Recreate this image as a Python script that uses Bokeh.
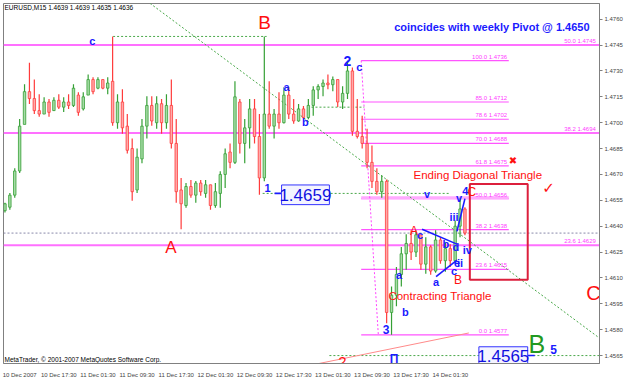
from bokeh.plotting import figure
from bokeh.models import ColumnDataSource, Range1d, FixedTicker, NumeralTickFormatter, Label
from bokeh.embed import file_html
from bokeh.resources import INLINE
from bokeh.core.properties import value

# ---------------- data (hourly bars, x = hours since 10 Dec 2007 first label) -------------
opens = [1.4649, 1.4651, 1.4658, 1.4672, 1.4699, 1.4718, 1.4714, 1.4707, 1.4705, 1.4712,
         1.4707, 1.4713, 1.4709, 1.4712, 1.4710, 1.4716, 1.4708, 1.4716, 1.4725, 1.4720,
         1.4725, 1.4720, 1.4724, 1.4700, 1.4712, 1.4698, 1.4685, 1.4661, 1.4679, 1.4698,
         1.4710, 1.4700, 1.4711, 1.4700, 1.4710, 1.4688, 1.4661, 1.4652, 1.4663, 1.4658,
         1.4665, 1.4659, 1.4664, 1.4652, 1.4659, 1.4670, 1.4683, 1.4677, 1.4712, 1.4688,
         1.4697, 1.4708, 1.4692, 1.4668, 1.4705, 1.4698, 1.4705, 1.4700, 1.4716, 1.4705,
         1.4701, 1.4708, 1.4703, 1.4710, 1.4719, 1.4721, 1.4723, 1.4722, 1.4725, 1.4712,
         1.4717, 1.4730, 1.4695, 1.4692, 1.4688, 1.4677, 1.4666, 1.4660, 1.4666, 1.4590,
         1.4600, 1.4612, 1.4624, 1.4630, 1.4625, 1.4635, 1.4618, 1.4628, 1.4614, 1.4632,
         1.4620, 1.4627, 1.4620, 1.4640, 1.4650]
highs = [1.46536, 1.46593, 1.46736, 1.47022, 1.47223, 1.47348, 1.47251, 1.47165, 1.47148, 1.47137,
         1.47148, 1.47165, 1.47148, 1.47165, 1.47223, 1.47177, 1.47177, 1.47280, 1.47263, 1.47263,
         1.47251, 1.47263, 1.47500, 1.47165, 1.47194, 1.47051, 1.46908, 1.46851, 1.47022, 1.47154,
         1.47154, 1.47154, 1.47137, 1.47165, 1.47251, 1.47022, 1.46679, 1.46650, 1.46668, 1.46662,
         1.46668, 1.46668, 1.46640, 1.46650, 1.46719, 1.46851, 1.46879, 1.47240, 1.47137, 1.47022,
         1.47137, 1.47137, 1.47051, 1.47500, 1.47240, 1.47080, 1.47177, 1.47205, 1.47205, 1.47137,
         1.47108, 1.47097, 1.47137, 1.47211, 1.47223, 1.47251, 1.47280, 1.47268, 1.47251, 1.47211,
         1.47360, 1.47320, 1.47137, 1.47040, 1.46965, 1.46868, 1.46736, 1.46696, 1.46670, 1.46050,
         1.46164, 1.46279, 1.46353, 1.46376, 1.46376, 1.46353, 1.46336, 1.46290, 1.46376, 1.46336,
         1.46307, 1.46296, 1.46433, 1.46565, 1.46510]
lows = [1.46479, 1.46496, 1.46565, 1.46708, 1.46994, 1.47108, 1.47051, 1.47034, 1.47051, 1.47034,
        1.47068, 1.47080, 1.47062, 1.47080, 1.47091, 1.47040, 1.47070, 1.47165, 1.47165, 1.47194,
        1.47194, 1.47165, 1.46982, 1.46965, 1.46936, 1.46822, 1.46548, 1.46593, 1.46765, 1.46908,
        1.46982, 1.46965, 1.46936, 1.46965, 1.46851, 1.46536, 1.46382, 1.46507, 1.46565, 1.46536,
        1.46576, 1.46565, 1.46496, 1.46507, 1.46507, 1.46622, 1.46736, 1.46760, 1.46822, 1.46765,
        1.46851, 1.46879, 1.46582, 1.46660, 1.46965, 1.46908, 1.46965, 1.46995, 1.47022, 1.46994,
        1.47005, 1.47022, 1.47020, 1.47040, 1.47137, 1.47154, 1.47194, 1.47182, 1.47091, 1.47080,
        1.47137, 1.46925, 1.46908, 1.46851, 1.46736, 1.46622, 1.46582, 1.46565, 1.45838, 1.45770,
        1.45936, 1.46050, 1.46147, 1.46204, 1.46221, 1.46147, 1.46124, 1.46119, 1.46130, 1.46182,
        1.46136, 1.46164, 1.46180, 1.46336, 1.46347]
closes = [1.4653, 1.4658, 1.4672, 1.4698, 1.4718, 1.4714, 1.4707, 1.4705, 1.4712, 1.4706,
          1.4713, 1.4709, 1.4712, 1.4710, 1.4720, 1.4706, 1.4715, 1.4725, 1.4718, 1.4725,
          1.4720, 1.4723, 1.4700, 1.4712, 1.4697, 1.4684, 1.4660, 1.4680, 1.4698, 1.4710,
          1.4701, 1.4711, 1.4700, 1.4710, 1.4688, 1.4660, 1.4653, 1.4663, 1.4658, 1.4665,
          1.4660, 1.4664, 1.4652, 1.4660, 1.4670, 1.4682, 1.4677, 1.4715, 1.4688, 1.4697,
          1.4708, 1.4692, 1.4668, 1.4705, 1.4698, 1.4705, 1.4700, 1.4716, 1.4705, 1.4701,
          1.4708, 1.4703, 1.4710, 1.4719, 1.4721, 1.4723, 1.4722, 1.4725, 1.4712, 1.4717,
          1.4730, 1.4695, 1.4692, 1.4688, 1.4677, 1.4666, 1.4660, 1.4666, 1.4590, 1.4600,
          1.4612, 1.4624, 1.4630, 1.4625, 1.4635, 1.4618, 1.4628, 1.4614, 1.4632, 1.4620,
          1.4627, 1.4620, 1.4640, 1.4650, 1.4636]

x_tick_hours = [0, 8, 16, 24, 32, 40, 48, 56, 64, 72, 80, 88]
x_tick_labels = ["10 Dec 2007", "10 Dec 17:30", "11 Dec 01:30", "11 Dec 09:30", "11 Dec 17:30",
                 "12 Dec 01:30", "12 Dec 09:30", "12 Dec 17:30", "13 Dec 01:30", "13 Dec 09:30",
                 "13 Dec 17:30", "14 Dec 01:30"]
y_ticks = [1.4565, 1.4580, 1.4595, 1.4610, 1.4625, 1.4640, 1.4655, 1.4670, 1.4685, 1.4700,
           1.4715, 1.4730, 1.4745, 1.4760]

fib_short_levels = ["100.0", "85.0", "78.6", "70.0", "61.8", "50.0", "38.2", "23.6", "0.0"]
fib_short_prices = [1.4736, 1.4712, 1.4702, 1.4688, 1.4675, 1.4656, 1.4638, 1.4615, 1.4577]
fib_long_levels = ["50.0", "38.2", "23.6"]
fib_long_prices = [1.4745, 1.4694, 1.4629]
bid_price = 1.4636
pivot_1 = 1.4659
pivot_2 = 1.4565

# ---------------- figure -------------
X0, X1 = 0.2, 122.0
p = figure(width=625, height=380, x_range=Range1d(X0, X1), y_range=Range1d(1.45604, 1.47691),
           output_backend="svg", toolbar_location=None, y_axis_location="right",
           min_border_left=3, min_border_top=3, min_border_right=24, min_border_bottom=12,
           background_fill_color="white", border_fill_color="white",
           outline_line_color="#808080")
p.grid.visible = False

FONT = "Liberation Sans"

# axes
p.yaxis.ticker = FixedTicker(ticks=y_ticks)
p.yaxis.formatter = NumeralTickFormatter(format="0.0000")
p.yaxis.major_label_text_font_size = "6px"
p.yaxis.major_label_text_font = FONT
p.yaxis.major_tick_out = 3
p.yaxis.major_tick_in = 0
p.yaxis.minor_tick_out = 0
p.yaxis.minor_tick_in = 0
p.yaxis.major_label_standoff = 2
p.yaxis.axis_line_color = "#808080"
p.yaxis.major_tick_line_color = "#808080"

xt = [h + 3.5 for h in x_tick_hours]
p.xaxis.ticker = FixedTicker(ticks=xt)
p.xaxis.major_label_overrides = {t: l for t, l in zip(xt, x_tick_labels)}
p.xaxis.major_label_text_font_size = "6px"
p.xaxis.major_label_text_font = FONT
p.xaxis.major_tick_line_color = None
p.xaxis.minor_tick_line_color = None
p.xaxis.major_label_standoff = 2
p.xaxis.axis_line_color = "#808080"

# ---------------- horizontal reference lines -------------
p.segment(x0=[X0] * 3, x1=[X1] * 3, y0=fib_long_prices, y1=fib_long_prices,
          line_color="#ff70ff", line_width=2)
sx0, sx1 = 73.3, 103.46
p.segment(x0=[sx0] * len(fib_short_prices), x1=[sx1] * len(fib_short_prices),
          y0=fib_short_prices, y1=fib_short_prices, line_color="#ff55ff", line_width=1.2)
p.segment(x0=[sx0], x1=[sx1], y0=[1.46565], y1=[1.46565], line_color="#ffaaff", line_width=3)
p.segment(x0=[X0], x1=[X1], y0=[bid_price], y1=[bid_price], line_color="#8888aa",
          line_dash="2 2", line_width=1)
p.segment(x0=[73.3], x1=[76.8], y0=[1.4736], y1=[1.4577], line_color="#ff44ff",
          line_dash="2 2", line_width=1)

gdx0 = [30.14, 22.6, 63.14, 53.16, 66.8]
gdx1 = [122.2, 53.97, 73.93, 91.24, 122.2]
gdy0 = [1.47692, 1.4750, 1.4709, pivot_1, pivot_2]
gdy1 = [1.45747, 1.4750, 1.4709, pivot_1, pivot_2]
p.segment(x0=gdx0, x1=gdx1, y0=gdy0, y1=gdy1, line_color="#4aa84a", line_dash="2 2",
          line_width=1)

p.segment(x0=[60.7], x1=[95.3], y0=[1.45581], y1=[1.45781], line_color="#ff8a8a", line_width=1)

# ---------------- candles -------------
xs = [i + 0.5 for i in range(len(opens))]
up = [c >= o for o, c in zip(opens, closes)]
src = ColumnDataSource(dict(
    x=xs, o=opens, h=highs, l=lows, c=closes,
    top=[max(o, c) for o, c in zip(opens, closes)],
    bot=[min(o, c) for o, c in zip(opens, closes)],
    wick=["#35a035" if u else "#ff3b3b" for u in up],
    fill=["#a8dca8" if u else "#ffaaaa" for u in up],
))
p.segment(x0="x", x1="x", y0="h", y1="l", line_color="wick", line_width=1.2, source=src)
p.vbar(x="x", width=0.5, top="top", bottom="bot", fill_color="fill", line_color="wick",
       line_width=0.8, source=src)

# ---------------- blue structure lines -------------
p.segment(x0=[85.74, 88.6, 92.87, 55.6, 107.33],
          x1=[92.87, 92.87, 94.5, 57.03, 108.76],
          y0=[1.46382, 1.46108, 1.4637, pivot_1, pivot_2],
          y1=[1.46296, 1.46204, 1.4656, pivot_1, pivot_2],
          line_color="#1a1aff", line_width=1.6)

p.quad(left=[95.5], right=[107.33], top=[1.46645], bottom=[1.4609],
       fill_color=None, line_color="#dc1f3c", line_width=2)

p.quad(left=[57.03, 97.35], right=[66.8, 107.33], top=[1.46639, 1.45701],
       bottom=[1.46525, 1.45598], fill_color="#f4f4ff", line_color="#3333ff", line_width=1)
p.text(x=[61.9, 102.34], y=[1.46582, 1.4565], text=["1.4659", "1.4565"],
       text_align="center", text_baseline="middle", text_color="#1010e0",
       text_font=value(FONT), text_font_size="17px")

# ---------------- fib labels -------------
p.text(x=[sx1] * len(fib_short_prices), y=fib_short_prices,
       text=[f"{lv}  {pr:.4f}" for lv, pr in zip(fib_short_levels, fib_short_prices)],
       text_align="right", text_baseline="bottom", y_offset=-1,
       text_color="#ff40ff", text_font=value(FONT), text_font_size="6px")
p.text(x=[121.6] * 3, y=fib_long_prices,
       text=[f"{lv}  {pr:.4f}" for lv, pr in zip(fib_long_levels, fib_long_prices)],
       text_align="right", text_baseline="bottom", y_offset=-1,
       text_color="#ff40ff", text_font=value(FONT), text_font_size="6px")

# ---------------- wave labels -------------
blue = [("c", 18.33, 1.47474, "11px"), ("a", 58.04, 1.47205, "11px"),
        ("b", 61.9, 1.47005, "11px"), ("2", 70.47, 1.4736, "14px"),
        ("c", 72.9, 1.47325, "11px"), ("1", 54.17, 1.46622, "11px"),
        ("v", 86.76, 1.46588, "11px"), ("v", 93.28, 1.46565, "11px"),
        ("4", 94.6, 1.46605, "11px"), ("iii", 92.26, 1.46456, "11px"),
        ("3", 78.4, 1.45804, "12px"), ("a", 81.06, 1.46119, "11px"),
        ("b", 82.3, 1.45901, "11px"), ("a", 88.6, 1.46079, "11px"),
        ("c", 92.26, 1.46142, "11px"), ("b", 90.6, 1.46296, "11px"),
        ("d", 92.67, 1.46279, "11px"), ("iv", 95.0, 1.46261, "11px"),
        ("e", 92.9, 1.46187, "11px"), ("ii", 93.5, 1.46187, "11px"),
        ("c", 85.34, 1.46347, "11px"), ("5", 112.6, 1.45684, "12px")]
p.text(x=[b[1] for b in blue], y=[b[2] for b in blue], text=[b[0] for b in blue],
       text_font_size=[b[3] for b in blue], text_align="center", text_baseline="middle",
       text_color="#1a1aff", text_font=value(FONT), text_font_style="bold")

red = [("B", 53.56, 1.47583, "19px"), ("A", 34.4, 1.46279, "17px"),
       ("C", 120.77, 1.4601, "20px"), ("A", 84.1, 1.4637, "12px"),
       ("B", 93.08, 1.4609, "12px"), ("C", 95.9, 1.4660, "12px"),
       ("2", 69.45, 1.45615, "15px"),
       ("Ending Diagonal Triangle", 97.15, 1.46696, "11.5px"),
       ("Contracting Triangle", 89.4, 1.45998, "11.5px")]
p.text(x=[r[1] for r in red], y=[r[2] for r in red], text=[r[0] for r in red],
       text_font_size=[r[3] for r in red], text_align="center", text_baseline="middle",
       text_color="#ff1010", text_font=value(FONT))

p.text(x=[104.3, 111.6], y=[1.46782, 1.46622], text=["\u2716", "\u2713"],
       text_font_size=["10px", "15px"], text_align="center", text_baseline="middle",
       text_color="#ff1010", text_font=value("DejaVu Sans"))

p.text(x=[109.2], y=[1.45718], text=["B"], text_font_size="25px", text_align="center",
       text_baseline="middle", text_color="#229922", text_font=value(FONT))
p.text(x=[80.04], y=[1.45632], text=["\u03a0"], text_font_size="12px", text_align="center",
       text_baseline="middle", text_color="#1a1aff", text_font=value(FONT),
       text_font_style="bold")

p.text(x=[100.0], y=[1.47554], text=["coincides with weekly Pivot @ 1.4650"],
       text_font_size="11px", text_align="center", text_baseline="middle",
       text_color="#1a1aff", text_font=value(FONT), text_font_style="bold")

p.text(x=[0.4], y=[1.47669], text=["EURUSD,M15  1.4639 1.4639 1.4635 1.4636"],
       text_font_size="6.5px", text_align="left", text_baseline="middle",
       text_color="black", text_font=value(FONT))
p.text(x=[0.4], y=[1.45627], text=["MetaTrader, \u00a9 2001-2007 MetaQuotes Software Corp."],
       text_font_size="6.5px", text_align="left", text_baseline="middle",
       text_color="black", text_font=value(FONT))

# current price marker on the price scale
p.add_layout(Label(x=603, y=bid_price, x_units="canvas", y_units="data",
                   text="1.4636", text_color="white",
                   text_font_size="6px", text_font=FONT, text_baseline="middle",
                   background_fill_color="black", padding=1))

open("out.html", "w").write(file_html(p, INLINE))
